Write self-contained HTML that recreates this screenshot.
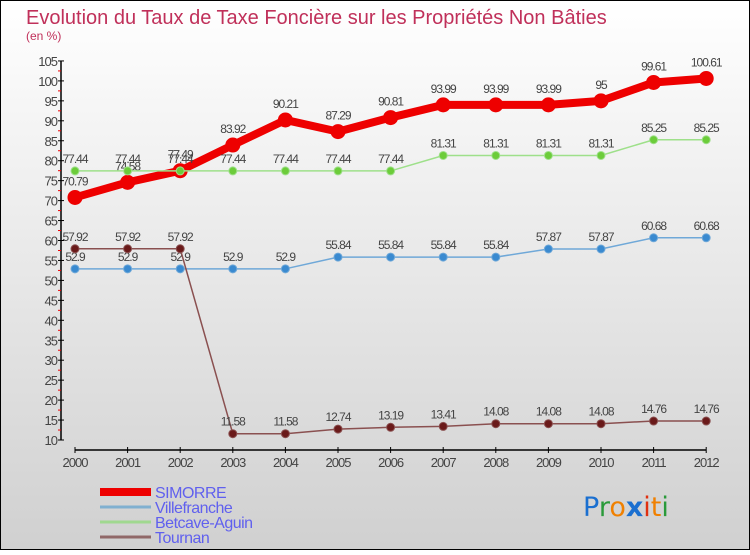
<!DOCTYPE html>
<html><head><meta charset="utf-8"><style>
html,body{margin:0;padding:0}
body{width:750px;height:550px;overflow:hidden;font-family:"Liberation Sans",sans-serif}
</style></head><body>
<svg id="chart" width="750" height="550" xmlns="http://www.w3.org/2000/svg">
<defs><linearGradient id="bg" x1="0" y1="0" x2="0" y2="1"><stop offset="0" stop-color="#ffffff"/><stop offset="1" stop-color="#d0d0d0"/></linearGradient></defs>
<rect x="0.5" y="0.5" width="749" height="549" fill="url(#bg)" stroke="#000" stroke-width="1"/>
<text x="26" y="24" font-size="20" fill="#c0305a">Evolution du Taux de Taxe Foncière sur les Propriétés Non Bâties</text>
<text x="26" y="40" font-size="12" fill="#c0305a">(en %)</text>
<g id="axes"></g>
<g id="series"></g>
<g id="legend"></g>
<text x="583" y="516" font-size="27" font-family="'DejaVu Sans',sans-serif"><tspan fill="#1a6fd0">P</tspan><tspan fill="#2a9a3a">r</tspan><tspan fill="#f08000">o</tspan><tspan fill="#1a6fd0" font-weight="bold">x</tspan><tspan fill="#e03010">i</tspan><tspan fill="#f08000">t</tspan><tspan fill="#2a9a3a">i</tspan></text>
</svg>
<script>
const years = [2000,2001,2002,2003,2004,2005,2006,2007,2008,2009,2010,2011,2012];
const simorre = [70.79,74.58,77.49,83.92,90.21,87.29,90.81,93.99,93.99,93.99,95,99.61,100.61];
const villefranche = [52.9,52.9,52.9,52.9,52.9,55.84,55.84,55.84,55.84,57.87,57.87,60.68,60.68];
const betcave = [77.44,77.44,77.44,77.44,77.44,77.44,77.44,81.31,81.31,81.31,81.31,85.25,85.25];
const tournan = [57.92,57.92,57.92,11.58,11.58,12.74,13.19,13.41,14.08,14.08,14.08,14.76,14.76];
const yTicks = [10,15,20,25,30,35,40,45,50,55,60,65,70,75,80,85,90,95,100,105];
const seriesNames = ["SIMORRE","Villefranche","Betcave-Aguin","Tournan"];

const NS="http://www.w3.org/2000/svg";
function x(i){return 75+i*52.6;}
function y(v){return 440-(v-10)*3.99;}
function mk(tag,attrs,parent){const e=document.createElementNS(NS,tag);for(const k in attrs)e.setAttribute(k,attrs[k]);parent.appendChild(e);return e;}
const axes=document.getElementById('axes');
const ax=mk('line',{x1:61,y1:y(105),x2:61,y2:y(10),stroke:'#000','stroke-width':1.5},axes);


const xa=mk('line',{x1:75,y1:450,x2:x(12),y2:450,stroke:'#000','stroke-width':1.5},axes);


yTicks.forEach((t,i)=>{
  mk('line',{x1:58,y1:y(t),x2:64,y2:y(t),stroke:'#000'},axes);
  if(i<yTicks.length-1) mk('line',{x1:58,y1:y(t+2.5),x2:61,y2:y(t+2.5),stroke:'#e00'},axes);
  const tx=mk('text',{x:57,y:y(t)+5,'font-size':13,fill:'#444','text-anchor':'end','letter-spacing':'-1'},axes);
  tx.textContent=t;
  
  
});
years.forEach((yr,i)=>{
  mk('line',{x1:x(i),y1:447,x2:x(i),y2:453,stroke:'#000'},axes);
  const tx=mk('text',{x:x(i),y:467,'font-size':13,fill:'#444','text-anchor':'middle','letter-spacing':'-1'},axes);
  tx.textContent=yr;
  
  
});
const ser=document.getElementById('series');
function draw(vals,name,color,w,r,mcolor){
  const g=mk('g',{},ser);
  
  
  const pl=mk('polyline',{points:vals.map((v,i)=>x(i)+','+y(v)).join(' '),fill:'none',stroke:color,'stroke-width':w,'stroke-linejoin':'round'},g);
  
  
  vals.forEach((v,i)=>{
    const c=mk('circle',{cx:x(i),cy:y(v),r:r,fill:mcolor,stroke:color,'stroke-width':1},g);
    
    
    const t=mk('text',{x:x(i),y:y(v)-8-(r>5?4:0),'font-size':12,fill:'#444','text-anchor':'middle','letter-spacing':'-1'},g);
    t.textContent=String(v);
    
    
  });
}
draw(simorre,'simorre','#ee0000',8,7,'#ee0000');
draw(villefranche,'villefranche','#6fa8d8',1.5,4,'#3a8ad0');
draw(betcave,'betcave-aguin','#9ee08a',1.5,4,'#6ccc3a');
draw(tournan,'tournan','#8a5050',1.5,4,'#6a1a1a');
const leg=document.getElementById('legend');
const lc=[['#ee0000',8],['#80b0d0',3],['#a0d890',3],['#906868',3]];
seriesNames.forEach((n,i)=>{
  const yy=492+i*15;
  const l=mk('line',{x1:100,y1:yy,x2:151,y2:yy,stroke:lc[i][0],'stroke-width':lc[i][1]},leg);
  
  
  const t=mk('text',{x:155,y:yy+6,'font-size':16,fill:'#6060ee','letter-spacing':'-0.5'},leg);
  t.textContent=n;
  
  
});
</script>
</body></html>
